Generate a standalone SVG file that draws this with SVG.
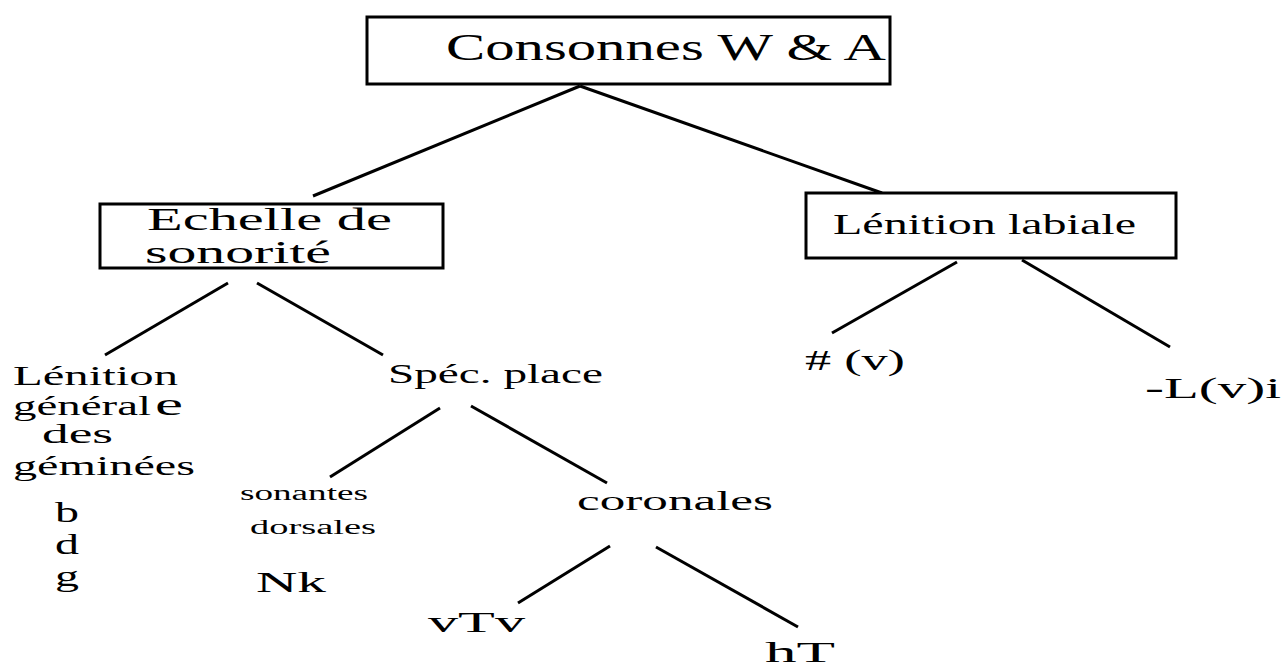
<svg xmlns="http://www.w3.org/2000/svg" width="1285" height="668" viewBox="0 0 1285 668">
<style>
.box{fill:#fff;stroke:#000;stroke-width:3}
.ln{stroke:#000;stroke-width:3;fill:none}
.t{font-family:"Liberation Serif","Times New Roman","DejaVu Serif",serif;fill:#000}
</style>
<rect width="1285" height="668" fill="#fff"/>
<g id="connectors">
<line class="ln" x1="580" y1="86" x2="313" y2="196"/>
<line class="ln" x1="580" y1="86" x2="882" y2="193"/>
<line class="ln" x1="228" y1="283" x2="105" y2="355"/>
<line class="ln" x1="257" y1="283" x2="383" y2="355"/>
<line class="ln" x1="957" y1="262" x2="832" y2="333"/>
<line class="ln" x1="1022" y1="260" x2="1170" y2="347"/>
<line class="ln" x1="440" y1="408" x2="330" y2="477"/>
<line class="ln" x1="471" y1="406" x2="607" y2="483"/>
<line class="ln" x1="610" y1="546" x2="518" y2="603"/>
<line class="ln" x1="656" y1="547" x2="798" y2="627"/>
</g>
<g id="n-consonnes" class="t" font-family="Liberation Serif, Times New Roman, DejaVu Serif, serif">
<rect class="box" x="367" y="17" width="523" height="67"/>
<text x="446" y="60" font-size="37" textLength="440" lengthAdjust="spacingAndGlyphs">Consonnes W &amp; A</text>
</g>
<g id="n-echelle" class="t" font-family="Liberation Serif, Times New Roman, DejaVu Serif, serif">
<rect class="box" x="100" y="204" width="343" height="64"/>
<text x="147" y="230" font-size="32" textLength="245" lengthAdjust="spacingAndGlyphs">Echelle de</text>
<text x="145" y="263" font-size="32" textLength="186" lengthAdjust="spacingAndGlyphs">sonorité</text>
</g>
<g id="n-labiale" class="t" font-family="Liberation Serif, Times New Roman, DejaVu Serif, serif">
<rect class="box" x="806" y="193" width="370" height="65"/>
<text x="833" y="234" font-size="29" textLength="303" lengthAdjust="spacingAndGlyphs">Lénition labiale</text>
</g>
<g id="n-lenition-gen" class="t" font-family="Liberation Serif, Times New Roman, DejaVu Serif, serif">
<text x="13" y="385" font-size="28" textLength="165" lengthAdjust="spacingAndGlyphs">Lénition</text>
<text x="13" y="415" font-size="28" textLength="138" lengthAdjust="spacingAndGlyphs">général</text>
<text x="155" y="415" font-size="32" textLength="28" lengthAdjust="spacingAndGlyphs">e</text>
<text x="42" y="443" font-size="28" textLength="71" lengthAdjust="spacingAndGlyphs">des</text>
<text x="13" y="475" font-size="28" textLength="182" lengthAdjust="spacingAndGlyphs">géminées</text>
<text x="55" y="522" font-size="30" textLength="24" lengthAdjust="spacingAndGlyphs">b</text>
<text x="55" y="554" font-size="30" textLength="24" lengthAdjust="spacingAndGlyphs">d</text>
<text x="55" y="586" font-size="30" textLength="24" lengthAdjust="spacingAndGlyphs">g</text>
</g>
<g id="n-spec" class="t" font-family="Liberation Serif, Times New Roman, DejaVu Serif, serif">
<text x="388" y="383" font-size="28" textLength="215" lengthAdjust="spacingAndGlyphs">Spéc. place</text>
</g>
<g id="n-sonantes" class="t" font-family="Liberation Serif, Times New Roman, DejaVu Serif, serif">
<text x="240" y="500" font-size="20" textLength="128" lengthAdjust="spacingAndGlyphs">sonantes</text>
<text x="250" y="534" font-size="20" textLength="126" lengthAdjust="spacingAndGlyphs">dorsales</text>
<text x="256" y="592" font-size="30" textLength="70" lengthAdjust="spacingAndGlyphs">Nk</text>
</g>
<g id="n-coronales" class="t" font-family="Liberation Serif, Times New Roman, DejaVu Serif, serif">
<text x="577" y="510" font-size="28" textLength="196" lengthAdjust="spacingAndGlyphs">coronales</text>
</g>
<g id="n-vtv" class="t" font-family="Liberation Serif, Times New Roman, DejaVu Serif, serif">
<text x="428" y="632" font-size="30" textLength="97" lengthAdjust="spacingAndGlyphs">vTv</text>
</g>
<g id="n-ht" class="t" font-family="Liberation Serif, Times New Roman, DejaVu Serif, serif">
<text x="765" y="662" font-size="30" textLength="70" lengthAdjust="spacingAndGlyphs">hT</text>
</g>
<g id="n-v" class="t" font-family="Liberation Serif, Times New Roman, DejaVu Serif, serif">
<text x="805" y="370" font-size="30" textLength="100" lengthAdjust="spacingAndGlyphs"># (v)</text>
</g>
<g id="n-lvi" class="t" font-family="Liberation Serif, Times New Roman, DejaVu Serif, serif">
<text x="1145" y="398" font-size="30" textLength="136" lengthAdjust="spacingAndGlyphs">-L(v)i</text>
</g>
</svg>
